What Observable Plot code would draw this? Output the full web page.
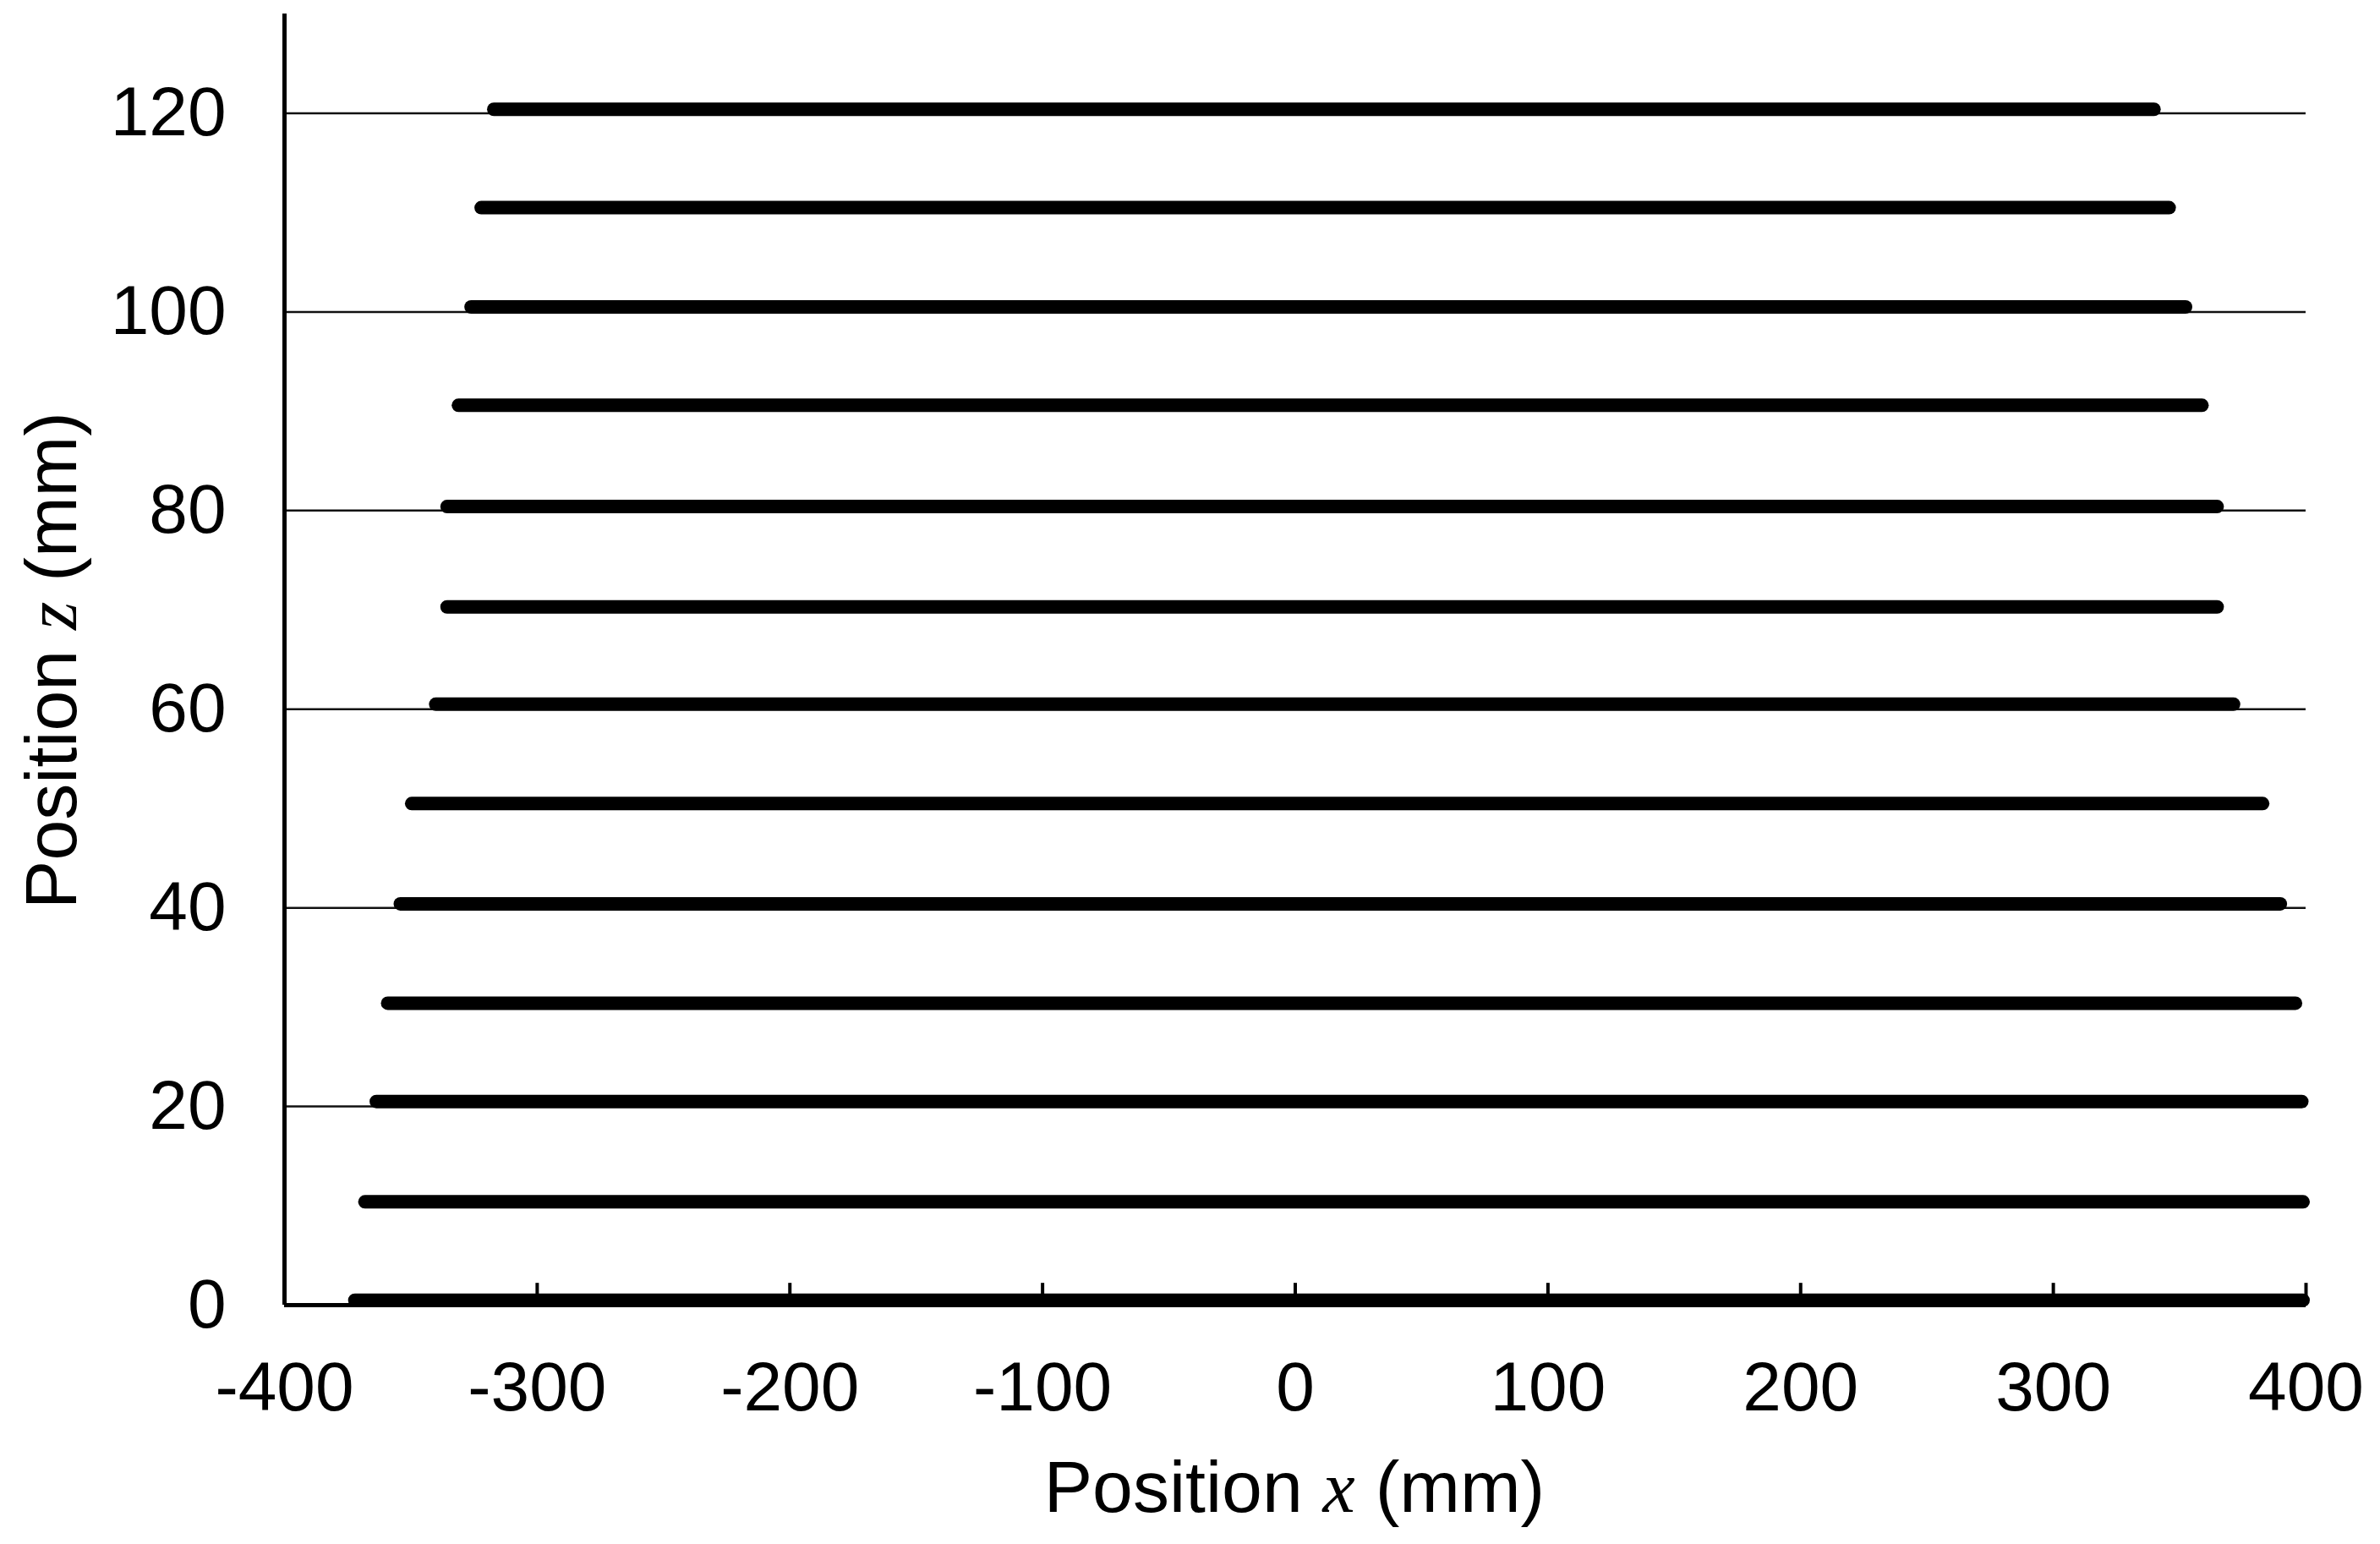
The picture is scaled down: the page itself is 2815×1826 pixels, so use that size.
<!DOCTYPE html>
<html>
<head>
<meta charset="utf-8">
<script src="https://cdn.jsdelivr.net/npm/d3@7"></script>
<script src="https://cdn.jsdelivr.net/npm/@observablehq/plot@0.6"></script>
<style>
  html, body { margin: 0; padding: 0; background: #fff; }
  #chart svg { display: block; }
</style>
</head>
<body>
<div id="chart"></div>
<script>
// Measured scan lines: nominal height z (mm), measured mean z, x extent (mm)
const levels = [0, 10, 20, 30, 40, 50, 60, 70, 80, 90, 100, 110, 120];
const zMeasured = [0.5, 10.4, 20.5, 30.4, 40.4, 50.5, 60.5, 70.3, 80.4, 90.6, 100.5, 110.5, 120.4];
const xStart = [-372, -368, -363.5, -359, -354, -349.5, -340, -335.5, -335.5, -331, -326, -322, -317];
const xEnd = [399, 399, 398.5, 396, 390, 383, 371.5, 365, 365, 359, 352.5, 346, 340];

const xTicks = [-400, -300, -200, -100, 0, 100, 200, 300, 400];
const yTicks = [0, 20, 40, 60, 80, 100, 120];
const gridLevels = [20, 40, 60, 80, 100, 120];

const bands = levels.map((lv, i) => ({level: lv, z: zMeasured[i], x1: xStart[i], x2: xEnd[i]}));

const W = 2815, H = 1826;
const font = "'Liberation Sans', Arial, Helvetica, sans-serif";

const chart = Plot.plot({
  width: W,
  height: H,
  marginLeft: 336,
  marginRight: 88,
  marginTop: 16,
  marginBottom: 283,
  style: {fontFamily: font, background: "#fff", color: "#000"},
  x: {domain: [-400, 400]},
  y: {domain: [0, 130]},
  marks: [
    // horizontal reference lines
    Plot.ruleY(gridLevels, {x1: -400, x2: 400, stroke: "#111", strokeWidth: 2.5}),
    // scan lines
    Plot.ruleY(bands, {y: "z", x1: "x1", x2: "x2", stroke: "#000", strokeWidth: 16, strokeLinecap: "round"}),
    // inward ticks on x axis
    Plot.ruleX(xTicks, {x: d => d, y1: 0, y2: 2.2, stroke: "#000", strokeWidth: 4}),
    // axis lines
    Plot.ruleX([-400], {y1: 0, y2: 130, stroke: "#000", strokeWidth: 5}),
    Plot.ruleY([0], {x1: -400, x2: 400, stroke: "#000", strokeWidth: 5}),
    Plot.axisX(xTicks, {tickSize: 0, tickPadding: 66, fontSize: 82, tickFormat: d => String(d), label: null, fill: "#000"}),
    Plot.axisY(yTicks, {tickSize: 0, tickPadding: 69, fontSize: 82, tickFormat: d => String(d), label: null, fill: "#000"})
  ]
});

document.getElementById("chart").appendChild(chart);

// axis titles with italic variable symbols
const svg = d3.select(chart);
const xt = svg.append("text")
  .attr("x", 1531).attr("y", 1788)
  .attr("text-anchor", "middle")
  .attr("font-family", font)
  .attr("font-size", 86)
  .attr("fill", "#000");
xt.append("tspan").text("Position ");
xt.append("tspan").attr("font-family", "'Liberation Serif', 'Times New Roman', serif").attr("font-style", "italic").text("x");
xt.append("tspan").text(" (mm)");

const yt = svg.append("text")
  .attr("transform", "translate(90,781) rotate(-90)")
  .attr("text-anchor", "middle")
  .attr("font-family", font)
  .attr("font-size", 86)
  .attr("fill", "#000");
yt.append("tspan").text("Position ");
yt.append("tspan").attr("font-family", "'Liberation Serif', 'Times New Roman', serif").attr("font-style", "italic").text("z");
yt.append("tspan").text(" (mm)");
</script>
</body>
</html>
